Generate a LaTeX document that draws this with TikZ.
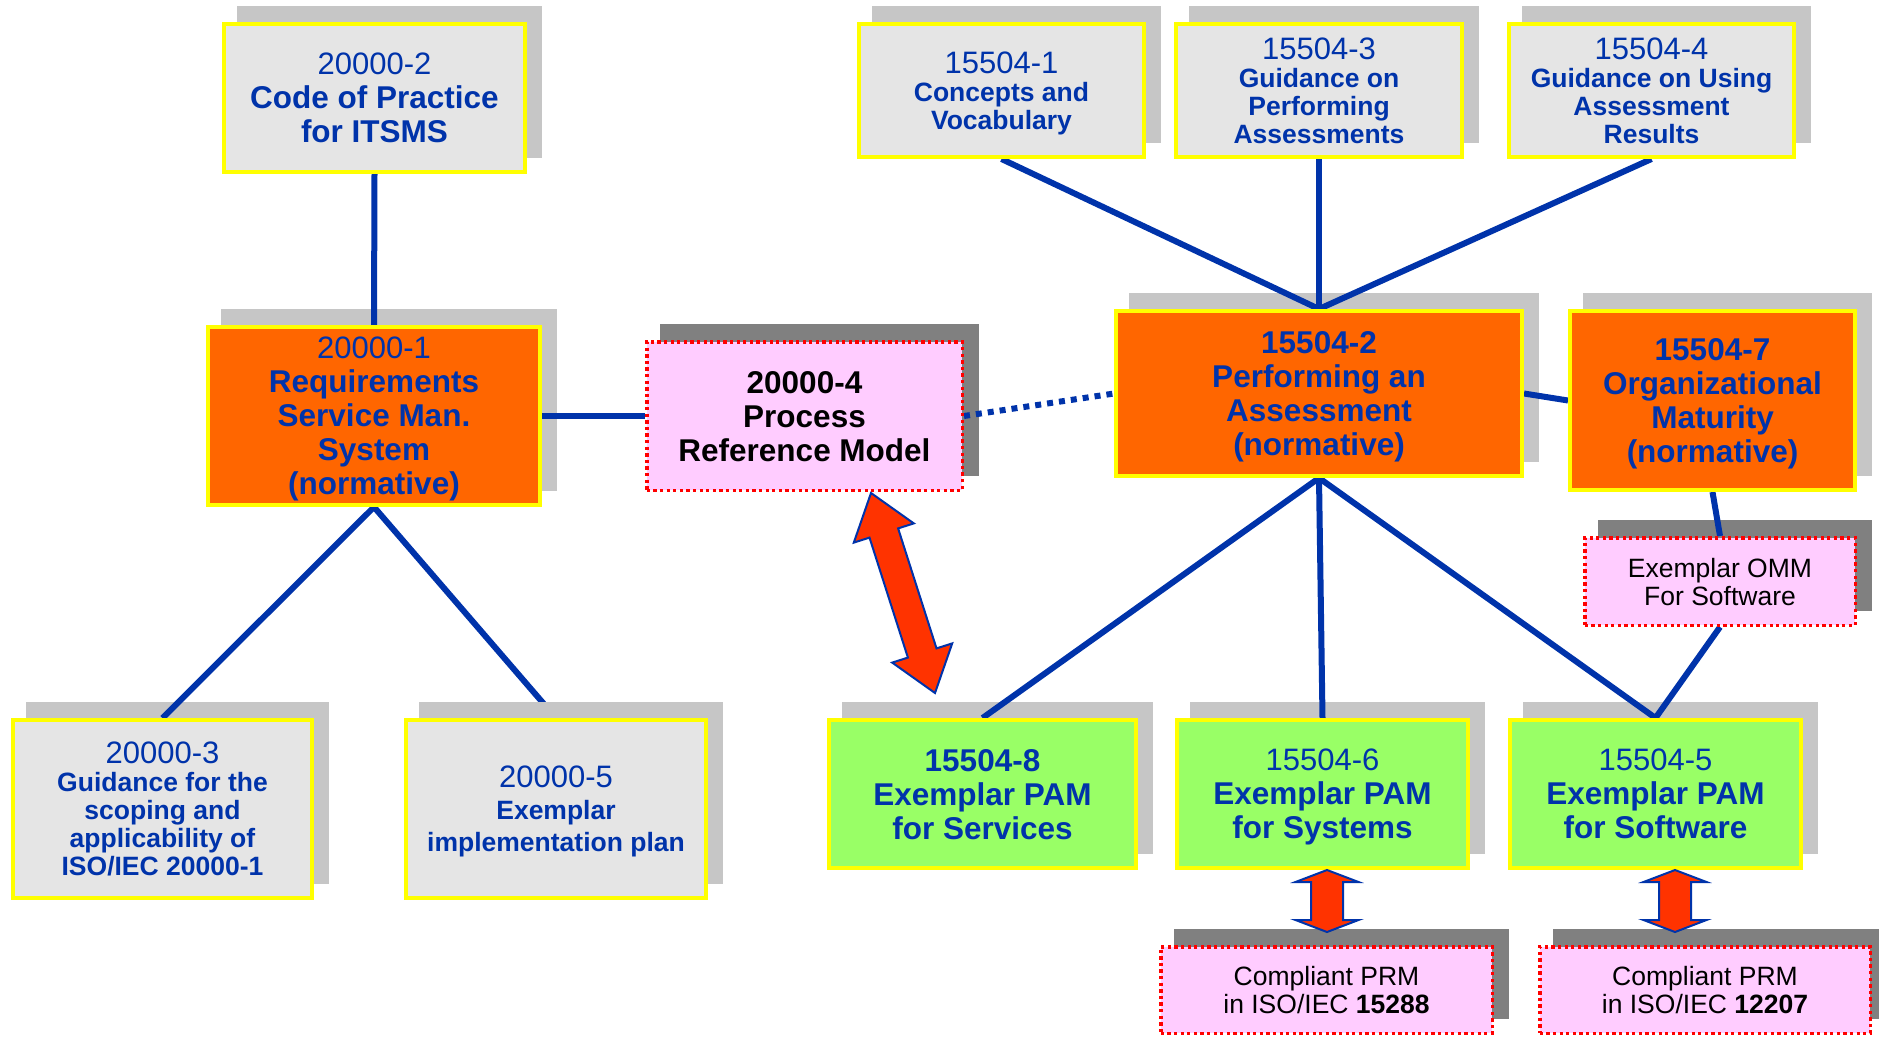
\documentclass[tikz,border=0pt]{standalone}
\usepackage{fontspec}
\setmainfont{Liberation Sans}
\usetikzlibrary{calc}
\definecolor{txtblue}{RGB}{0,51,170}
\definecolor{lineblue}{RGB}{0,51,170}
\definecolor{boxgray}{RGB}{229,229,229}
\definecolor{boxorange}{RGB}{255,102,0}
\definecolor{boxgreen}{RGB}{153,255,102}
\definecolor{boxpink}{RGB}{255,204,255}
\definecolor{boxyellow}{RGB}{255,255,0}
\definecolor{dotred}{RGB}{255,0,0}
\definecolor{shlight}{RGB}{198,198,198}
\definecolor{shdark}{RGB}{128,128,128}
\definecolor{arrowred}{RGB}{255,51,0}
\newcommand\dgNum{\fontsize{31}{34}\selectfont\mdseries}
\newcommand\dgBig{\fontsize{31.5}{34}\selectfont\bfseries}
\newcommand\dgSmall{\fontsize{26.5}{28}\selectfont\bfseries}
\newcommand\dgPlain{\fontsize{26.5}{28}\selectfont\mdseries}
\pgfdeclarelayer{shadowlayer}
\pgfdeclarelayer{linelayer}
\pgfsetlayers{shadowlayer,linelayer,main}
\tikzset{
  basebox/.style={inner sep=0pt, align=center, text depth=0pt},
  yellowbox/.style={basebox, draw=boxyellow, line width=4pt, text=txtblue},
  graybox/.style={yellowbox, fill=boxgray},
  orangebox/.style={yellowbox, fill=boxorange},
  greenbox/.style={yellowbox, fill=boxgreen},
  pinkbox/.style={basebox, draw=dotred, line width=3.5pt, dash pattern=on 3.3pt off 3.3pt, fill=boxpink, text=black},
  lightshadow/.style={fill=shlight},
  darkshadow/.style={fill=shdark},
  link/.style={draw=lineblue, line width=6pt},
  dotlink/.style={link, dash pattern=on 6pt off 6pt},
  fatarrow/.style={fill=arrowred, draw=lineblue, line width=2pt, line join=miter},
}
\newcommand\dgShadow[2]{\fill[#2] ($(#1.south west)+(15,-16)$) rectangle ($(#1.north east)+(15,-16)$);}
\begin{document}
\begin{tikzpicture}[x=1pt, y=-1pt]
\path[use as bounding box] (0,0) rectangle (1879,1038);
\clip (0,0) rectangle (1879,1038);

% ---------- boxes ----------
\node[graybox, font=\dgBig, minimum width=301pt, minimum height=148pt] (b20002) at (374.5,98)
  {{\dgNum 20000-2}\\Code of Practice\\for ITSMS};
\node[graybox, font=\dgSmall, minimum width=285pt, minimum height=133pt] (b155041) at (1001.5,90.5)
  {{\dgNum 15504-1}\\Concepts and\\Vocabulary};
\node[graybox, font=\dgSmall, minimum width=286pt, minimum height=133pt] (b155043) at (1319,90.5)
  {{\dgNum 15504-3}\\Guidance on\\Performing\\Assessments};
\node[graybox, font=\dgSmall, minimum width=285pt, minimum height=133pt] (b155044) at (1651.5,90.5)
  {{\dgNum 15504-4}\\Guidance on Using\\Assessment\\Results};

\node[orangebox, font=\dgBig, minimum width=332pt, minimum height=178pt] (b20001) at (374,416)
  {{\dgNum 20000-1}\\Requirements\\Service Man.\\System\\(normative)};
\node[pinkbox, font=\dgBig, minimum width=315.5pt, minimum height=148.5pt] (b20004) at (804.5,416)
  {20000-4\\Process\\Reference Model};
\node[orangebox, font=\dgBig, minimum width=406pt, minimum height=165pt] (b155042) at (1319,393.5)
  {15504-2\\Performing an\\Assessment\\(normative)};
\node[orangebox, font=\dgBig, minimum width=285pt, minimum height=179pt] (b155047) at (1712.5,400.5)
  {15504-7\\Organizational\\Maturity\\(normative)};
\node[pinkbox, font=\dgPlain, minimum width=270.5pt, minimum height=87.5pt] (bomm) at (1720,581.5)
  {Exemplar OMM\\For Software};

\node[graybox, font=\dgSmall, minimum width=299pt, minimum height=178pt] (b20003) at (162.5,809)
  {{\dgNum 20000-3}\\Guidance for the\\scoping and\\applicability of\\ISO/IEC 20000-1};
\node[graybox, font=\fontsize{26.5}{32}\selectfont\bfseries, minimum width=300pt, minimum height=178pt] (b20005) at (556,809)
  {{\dgNum 20000-5}\\Exemplar\\implementation plan};
\node[greenbox, font=\dgBig, minimum width=307pt, minimum height=148pt] (b155048) at (982.5,794)
  {15504-8\\Exemplar PAM\\for Services};
\node[greenbox, font=\dgBig, minimum width=291pt, minimum height=148pt] (b155046) at (1322.5,794)
  {{\dgNum 15504-6}\\Exemplar PAM\\for Systems};
\node[greenbox, font=\dgBig, minimum width=291pt, minimum height=148pt] (b155045) at (1655.5,794)
  {{\dgNum 15504-5}\\Exemplar PAM\\for Software};
\node[pinkbox, font=\dgPlain, minimum width=331.5pt, minimum height=86.5pt] (c15288) at (1326.5,990)
  {Compliant PRM\\in ISO/IEC \textbf{15288}};
\node[pinkbox, font=\dgPlain, minimum width=330.5pt, minimum height=86.5pt] (c12207) at (1705,990)
  {Compliant PRM\\in ISO/IEC \textbf{12207}};

% ---------- shadows ----------
\begin{pgfonlayer}{shadowlayer}
\foreach \b in {b20002,b155041,b155043,b155044,b20001,b155042,b155047,b20003,b155048,b155046,b155045}
  {\dgShadow{\b}{lightshadow}}
\foreach \b in {b20004,bomm,c15288,c12207}
  {\dgShadow{\b}{darkshadow}}
\end{pgfonlayer}

% ---------- connectors ----------
\begin{pgfonlayer}{linelayer}
\draw[link] (b20002.south) -- (b20001.north);
\draw[link] (b20001.east) -- (b20004.west);
\draw[link] (b20001.south) -- (b20003.north);
\draw[link] (b20001.south) -- (b20005.north);
\dgShadow{b20005}{lightshadow}
\draw[dotlink] (b20004.east) -- (b155042.west);
\draw[link] (b155041.south) -- (b155042.north);
\draw[link] (b155043.south) -- (b155042.north);
\draw[link] (b155044.south) -- (b155042.north);
\draw[link] (b155042.east) -- (b155047.west);
\draw[link] (b155042.south) -- (b155048.north);
\draw[link] (b155042.south) -- (b155046.north);
\draw[link] (b155042.south) -- (b155045.north);
\draw[link] (b155047.south) -- (bomm.north);
\draw[link] (bomm.south) -- (b155045.north);
\end{pgfonlayer}

% ---------- block arrows ----------
\draw[fatarrow] (871,493) -- (913.8,523.4) -- (898.1,528.4) -- (936.5,648.4) -- (952.2,643.4)
  -- (935,693) -- (892.2,662.6) -- (907.9,657.6) -- (869.5,537.6) -- (853.8,542.6) -- cycle;
\foreach \c in {1327,1675}{
  \draw[fatarrow] (\c,870) -- (\c+31.5,882) -- (\c+16,882) -- (\c+16,920) -- (\c+31.5,920)
    -- (\c,932) -- (\c-31.5,920) -- (\c-16,920) -- (\c-16,882) -- (\c-31.5,882) -- cycle;
}
\end{tikzpicture}
\end{document}
